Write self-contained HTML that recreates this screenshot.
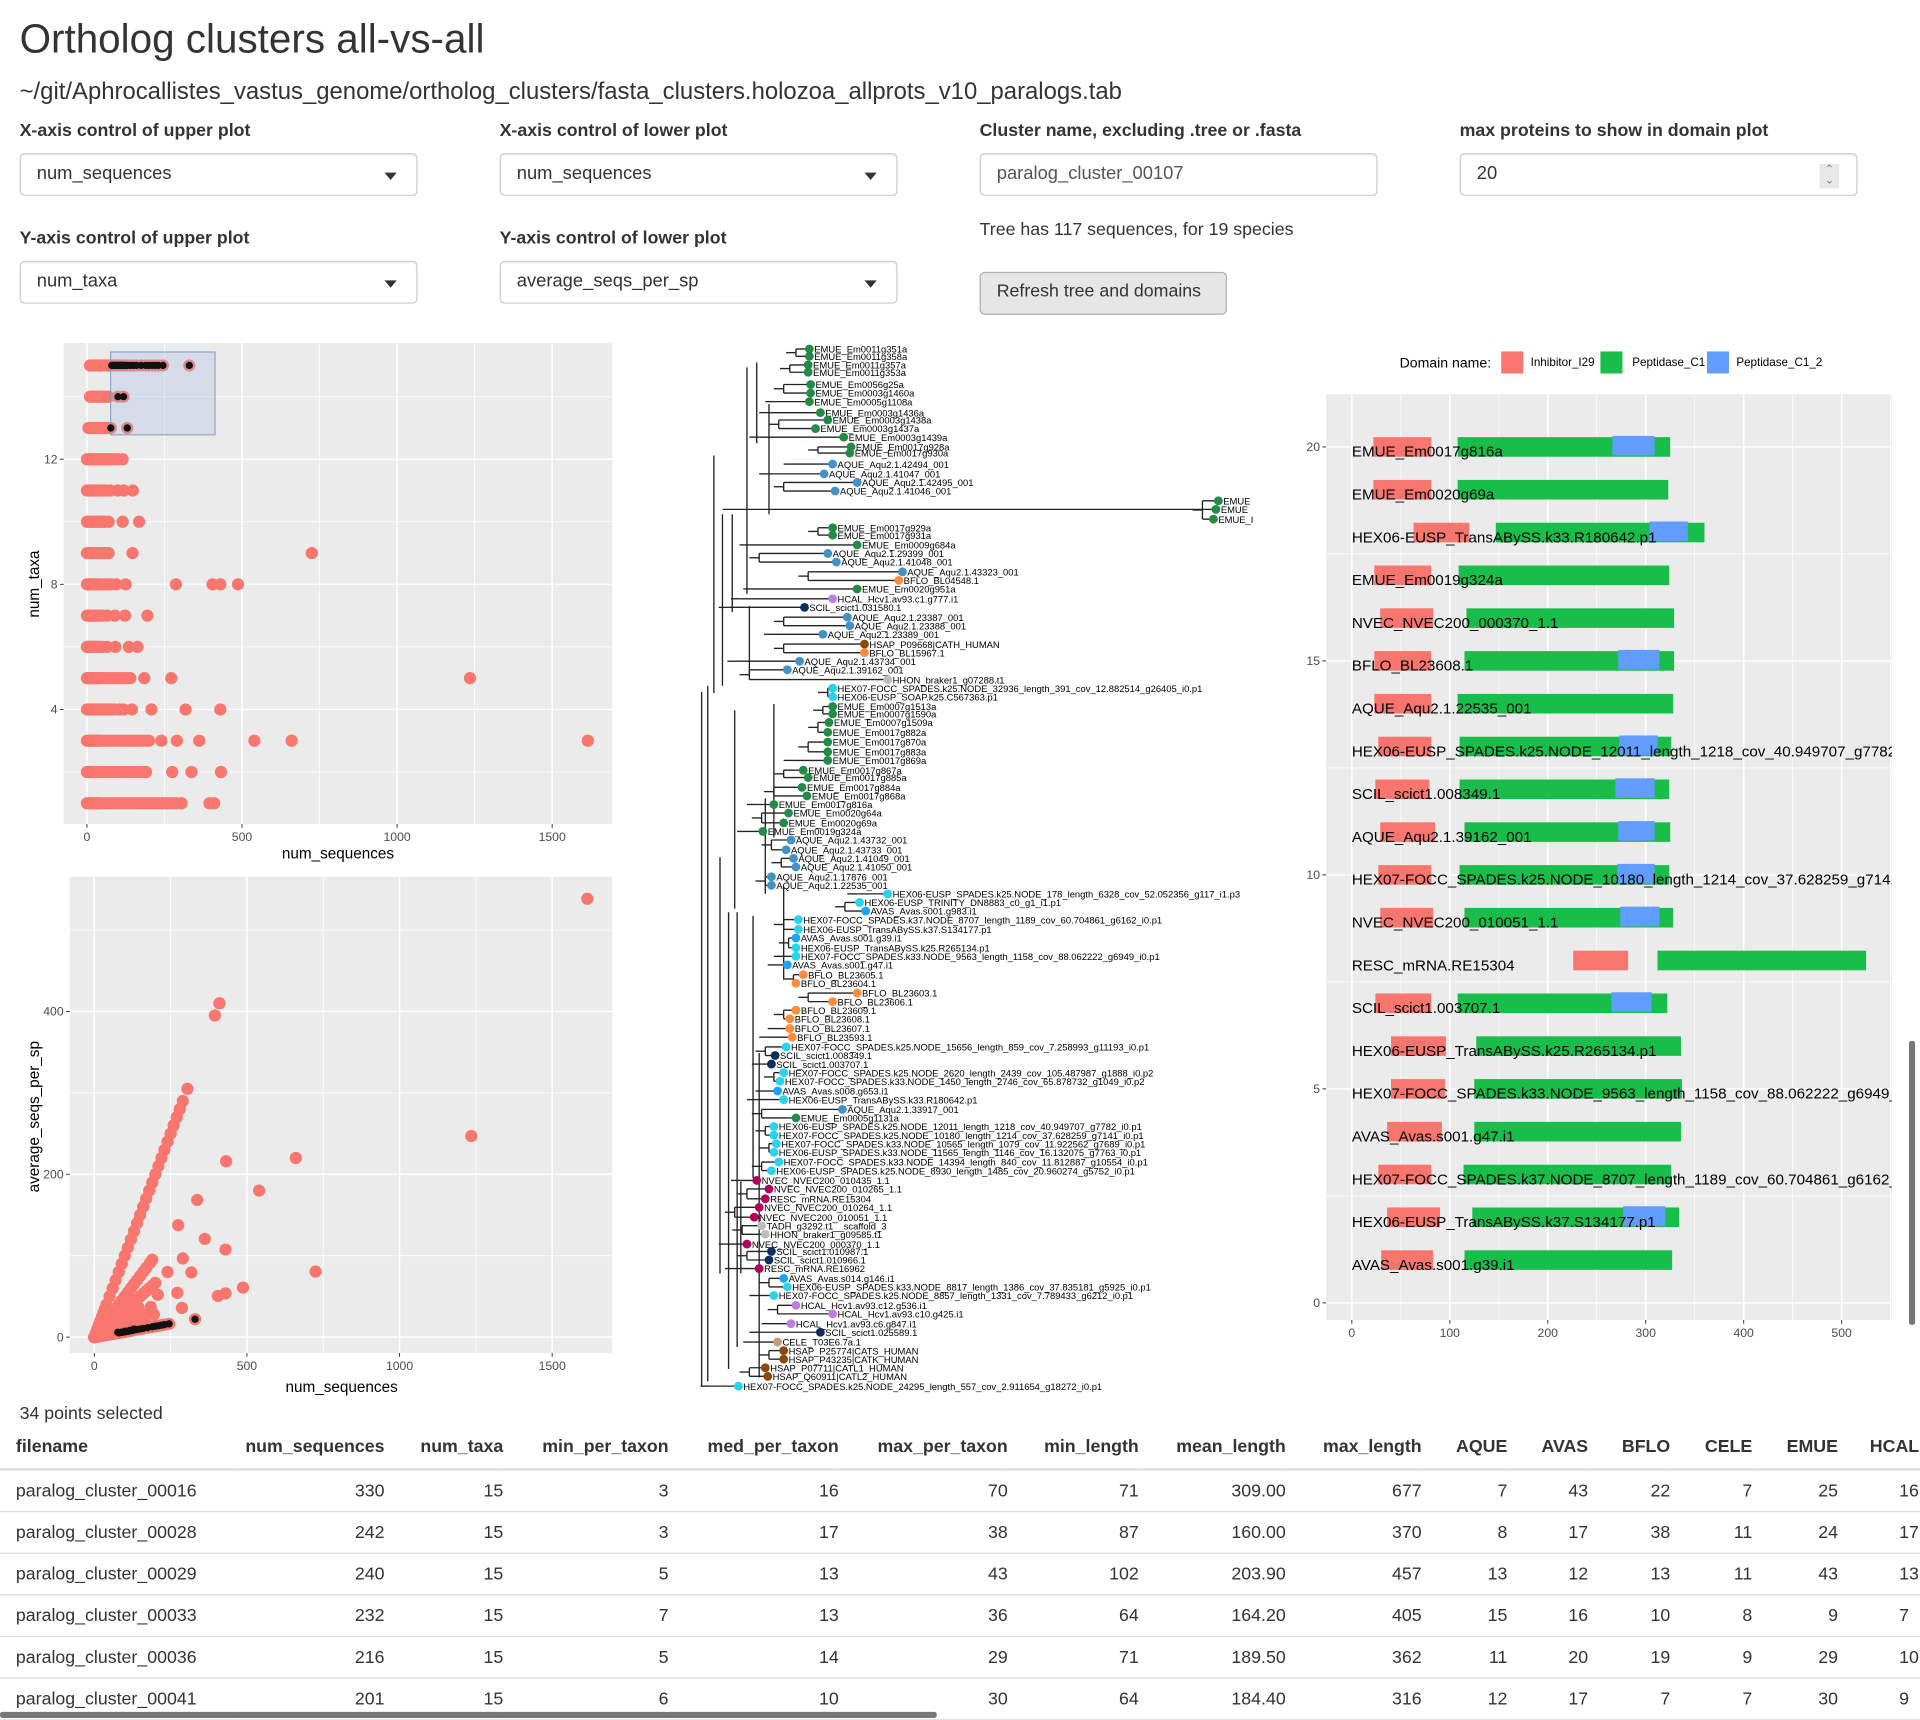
<!DOCTYPE html>
<html><head><meta charset="utf-8"><title>Ortholog clusters all-vs-all</title>
<style>
html,body{margin:0;padding:0;background:#fff;}
body{width:1920px;height:1720px;overflow:hidden;font-family:"Liberation Sans",Arial,sans-serif;color:#333;}
#wrap{position:absolute;left:0;top:0;width:1568px;height:1405px;transform:scale(1.22449);transform-origin:0 0;}
.abs{position:absolute;}
.lbl{position:absolute;font-weight:bold;font-size:14.5px;color:#333;}
.sel{position:absolute;width:325px;height:35px;border:1px solid #ccc;border-radius:4px;background:#fff;font-size:15px;color:#333;box-sizing:border-box;padding:7px 13px;box-shadow:inset 0 1px 1px rgba(0,0,0,.075);}
.sel .caret{position:absolute;right:16px;top:15px;width:0;height:0;border-left:5px solid transparent;border-right:5px solid transparent;border-top:6px solid #333;}
table{border-collapse:collapse;font-size:14.5px;}
th{font-weight:bold;text-align:right;padding:0;height:34px;border-bottom:2px solid #ddd;color:#333;}
td{text-align:right;height:33px;border-bottom:1px solid #ddd;padding:0;color:#333;}
th.l,td.l{text-align:left;}
svg text{font-family:"Liberation Sans",Arial,sans-serif;}
</style></head>
<body>
<div id="wrap">
<div class="abs" style="left:16px;top:13px;font-size:33px;color:#333;">Ortholog clusters all-vs-all</div>
<div class="abs" style="left:16px;top:64px;font-size:19.5px;color:#333;">~/git/Aphrocallistes_vastus_genome/ortholog_clusters/fasta_clusters.holozoa_allprots_v10_paralogs.tab</div>

<div class="lbl" style="left:16px;top:99px;">X-axis control of upper plot</div>
<div class="sel" style="left:16px;top:125px;">num_sequences<span class="caret"></span></div>
<div class="lbl" style="left:408px;top:99px;">X-axis control of lower plot</div>
<div class="sel" style="left:408px;top:125px;">num_sequences<span class="caret"></span></div>
<div class="lbl" style="left:800px;top:99px;">Cluster name, excluding .tree or .fasta</div>
<div class="sel" style="left:800px;top:125px;color:#555;">paralog_cluster_00107</div>
<div class="lbl" style="left:1192px;top:99px;">max proteins to show in domain plot</div>
<div class="sel" style="left:1192px;top:125px;">20<span style="position:absolute;right:14px;top:8px;width:16px;height:20px;background:#e8e8e8;font-size:9px;line-height:9px;text-align:center;color:#777;">&#8963;<br>&#8964;</span></div>

<div class="lbl" style="left:16px;top:187px;">Y-axis control of upper plot</div>
<div class="sel" style="left:16px;top:213px;">num_taxa<span class="caret"></span></div>
<div class="lbl" style="left:408px;top:187px;">Y-axis control of lower plot</div>
<div class="sel" style="left:408px;top:213px;">average_seqs_per_sp<span class="caret"></span></div>
<div class="abs" style="left:800px;top:180px;font-size:14.5px;">Tree has 117 sequences, for 19 species</div>
<div class="abs" style="left:800px;top:222px;width:202px;height:35px;box-sizing:border-box;border:1px solid #adadad;border-radius:4px;background:#e6e6e6;font-size:14.5px;padding:7px 0 0 13px;color:#333;">Refresh tree and domains</div>

<svg class="abs" style="left:0;top:0" width="1568" height="1405" id="charts"></svg>

<div class="abs" style="left:16px;top:1147px;font-size:14.5px;">34 points selected</div>
<div class="abs" style="left:0;top:1165px;width:1568px;overflow:hidden;">
<table style="width:1600px;">
<colgroup><col style="width:190px"><col style="width:124px"><col style="width:97px"><col style="width:135px"><col style="width:139px"><col style="width:138px"><col style="width:107px"><col style="width:120px"><col style="width:111px"><col style="width:70px"><col style="width:66px"><col style="width:67px"><col style="width:67px"><col style="width:70px"><col style="width:99px"></colgroup>
<tr><th class="l" style="padding-left:13px">filename</th><th>num_sequences</th><th>num_taxa</th><th>min_per_taxon</th><th>med_per_taxon</th><th>max_per_taxon</th><th>min_length</th><th>mean_length</th><th>max_length</th><th>AQUE</th><th>AVAS</th><th>BFLO</th><th>CELE</th><th>EMUE</th><th class="l" style="padding-left:26px">HCAL</th></tr>
<tr><td class="l" style="padding-left:13px">paralog_cluster_00016</td><td>330</td><td>15</td><td>3</td><td>16</td><td>70</td><td>71</td><td>309.00</td><td>677</td><td>7</td><td>43</td><td>22</td><td>7</td><td>25</td><td class="l" style="padding-left:50px">16</td></tr>
<tr><td class="l" style="padding-left:13px">paralog_cluster_00028</td><td>242</td><td>15</td><td>3</td><td>17</td><td>38</td><td>87</td><td>160.00</td><td>370</td><td>8</td><td>17</td><td>38</td><td>11</td><td>24</td><td class="l" style="padding-left:50px">17</td></tr>
<tr><td class="l" style="padding-left:13px">paralog_cluster_00029</td><td>240</td><td>15</td><td>5</td><td>13</td><td>43</td><td>102</td><td>203.90</td><td>457</td><td>13</td><td>12</td><td>13</td><td>11</td><td>43</td><td class="l" style="padding-left:50px">13</td></tr>
<tr><td class="l" style="padding-left:13px">paralog_cluster_00033</td><td>232</td><td>15</td><td>7</td><td>13</td><td>36</td><td>64</td><td>164.20</td><td>405</td><td>15</td><td>16</td><td>10</td><td>8</td><td>9</td><td class="l" style="padding-left:50px">7</td></tr>
<tr><td class="l" style="padding-left:13px">paralog_cluster_00036</td><td>216</td><td>15</td><td>5</td><td>14</td><td>29</td><td>71</td><td>189.50</td><td>362</td><td>11</td><td>20</td><td>19</td><td>9</td><td>29</td><td class="l" style="padding-left:50px">10</td></tr>
<tr><td class="l" style="padding-left:13px">paralog_cluster_00041</td><td>201</td><td>15</td><td>6</td><td>10</td><td>30</td><td>64</td><td>184.40</td><td>316</td><td>12</td><td>17</td><td>7</td><td>7</td><td>30</td><td class="l" style="padding-left:50px">9</td></tr>
</table></div>
<div class="abs" style="left:0;top:1398px;width:765px;height:5px;background:#777;border-radius:2px;"></div>
<div class="abs" style="left:1559px;top:850px;width:5px;height:232px;background:#777;border-radius:2px;"></div>
</div>

<script>
// ---------- scatter data (num_sequences, num_taxa per cluster) ----------
const numSeqsT15 = [10,15,20,25,30,35,40,45,50,55,60,65,70,76,80,82,85,88,90,93,95,98,100,103,105,108,110,112,115,118,120,125,130,140,150,160,175,190,200,210,220,230,245,330];
const numSeqsT14 = [10,15,20,25,30,35,40,45,50,55,60,65,70,100,118];
const numSeqsT13 = [5,10,15,20,25,30,35,40,45,50,55,60,65,70,77,130];
const numSeqsT12 = [0,5,10,15,20,25,30,35,40,45,50,55,60,65,70,75,80,90,100,115];
const numSeqsT11 = [0,5,10,15,20,25,30,35,40,50,60,75,99,119,148];
const numSeqsT10 = [0,5,10,15,20,25,30,35,40,45,50,55,60,70,115,168];
const numSeqsT9 = [0,5,10,15,20,25,30,35,40,45,50,55,60,70,147,725];
const numSeqsT8 = [0,5,10,15,20,25,30,35,40,50,60,70,80,95,125,287,405,430,487];
const numSeqsT7 = [0,5,10,15,20,25,30,35,40,50,65,90,123,195];
const numSeqsT6 = [0,5,10,15,20,25,30,35,40,50,65,92,135,163];
const numSeqsT5 = [0,5,10,15,20,25,30,35,40,50,60,70,80,90,100,110,120,130,140,185,272,1235];
const numSeqsT4 = [0,5,10,15,20,25,30,35,40,50,60,70,80,90,105,118,145,208,318,430];
const numSeqsT3 = [0,5,10,15,20,25,30,35,40,50,60,70,80,90,100,110,120,130,140,150,160,170,180,190,200,240,290,362,540,660,1615];
const numSeqsT2 = [0,5,10,15,20,25,30,35,40,50,60,70,80,90,100,110,120,130,140,150,160,170,182,190,275,337,432];
const numSeqsT1 = [0,5,10,15,20,25,30,35,40,50,60,70,80,90,100,110,120,130,140,150,160,170,180,190,200,210,220,230,240,250,260,270,280,290,305,395,410];
const taxaLevels = [15,14,13,12,11,10,9,8,7,6,5,4,3,2,1];
const seqsByTaxa = [numSeqsT15,numSeqsT14,numSeqsT13,numSeqsT12,numSeqsT11,numSeqsT10,numSeqsT9,numSeqsT8,numSeqsT7,numSeqsT6,numSeqsT5,numSeqsT4,numSeqsT3,numSeqsT2,numSeqsT1];
// brush selection (interaction state, data units)
const brushX = [76.5, 413];
const brushY = [12.78, 15.43];
const xTicks = [0,500,1000,1500];
const upperYTicks = [4,8,12];
const lowerYTicks = [0,200,400];

// ---------- domain plot data ----------
const domainProteins = ["EMUE_Em0017g816a","EMUE_Em0020g69a","HEX06-EUSP_TransABySS.k33.R180642.p1","EMUE_Em0019g324a","NVEC_NVEC200_000370_1.1","BFLO_BL23608.1","AQUE_Aqu2.1.22535_001","HEX06-EUSP_SPADES.k25.NODE_12011_length_1218_cov_40.949707_g7782_i0.p1","SCIL_scict1.008349.1","AQUE_Aqu2.1.39162_001","HEX07-FOCC_SPADES.k25.NODE_10180_length_1214_cov_37.628259_g7141_i0.p1","NVEC_NVEC200_010051_1.1","RESC_mRNA.RE15304","SCIL_scict1.003707.1","HEX06-EUSP_TransABySS.k25.R265134.p1","HEX07-FOCC_SPADES.k33.NODE_9563_length_1158_cov_88.062222_g6949_i0.p1","AVAS_Avas.s001.g47.i1","HEX07-FOCC_SPADES.k37.NODE_8707_length_1189_cov_60.704861_g6162_i0.p1","HEX06-EUSP_TransABySS.k37.S134177.p1","AVAS_Avas.s001.g39.i1"];
const i29Start = [22,22,63,23,29,23,23,27,24,29,27,29,226,24,40,40,36,27,36,30];
const i29End   = [81,81,120,81,83,81,81,81,79,85,81,83,282,81,96,95,92,81,90,83];
const c1Start  = [108,108,147,109,117,115,108,110,110,115,110,115,312,108,127,125,125,114,123,115];
const c1End    = [325,323,360,324,329,329,328,326,324,325,324,328,525,322,336,337,336,326,334,327];
const c12Start = [266,null,304,null,null,272,null,273,269,272,271,274,null,265,null,null,null,null,277,null];
const c12End   = [309,null,343,null,null,314,null,312,309,309,309,314,null,306,null,null,null,null,320,null];
const domainXTicks = [0,100,200,300,400,500];
const domainYTicks = [0,5,10,15,20];

// ---------- tree layout: [label, y, tipX, parentX] ----------
const treeLeaves = [
["EMUE_Em0011g351a",285,661,650],["EMUE_Em0011g358a",291,661,650],["EMUE_Em0011g357a",298,660,645],["EMUE_Em0011g353a",304,660,645],
["EMUE_Em0056g25a",314,662,640],["EMUE_Em0003g1460a",321,662,640],["EMUE_Em0005g1108a",328,661,633],["EMUE_Em0003g1436a",337,670,628],
["EMUE_Em0003g1438a",343,676,636],["EMUE_Em0003g1437a",350,666,636],["EMUE_Em0003g1439a",357,689,620],["EMUE_Em0017g928a",365,695,668],
["EMUE_Em0017g930a",370,694,668],["AQUE_Aqu2.1.42494_001",379,680,648],["AQUE_Aqu2.1.41047_001",387,673,628],["AQUE_Aqu2.1.42495_001",394,700,640],
["AQUE_Aqu2.1.41046_001",401,682,640],["EMUE",409,995,982],["EMUE",416,993,982],["EMUE_I",424,991,982],
["EMUE_Em0017g929a",431,680,668],["EMUE_Em0017g931a",437,680,668],["EMUE_Em0009g684a",445,700,612],["AQUE_Aqu2.1.29399_001",452,676,620],
["AQUE_Aqu2.1.41048_001",459,683,620],["AQUE_Aqu2.1.43323_001",467,737,660],["BFLO_BL04548.1",474,734,660],["EMUE_Em0020g951a",481,700,615],
["HCAL_Hcv1.av93.c1.g777.i1",489,680,605],["SCIL_scict1.031580.1",496,657,595],["AQUE_Aqu2.1.23387_001",504,692,640],["AQUE_Aqu2.1.23388_001",511,694,640],
["AQUE_Aqu2.1.23389_001",518,672,632],["HSAP_P09668|CATH_HUMAN",526,706,640],["BFLO_BL15967.1",533,706,640],["AQUE_Aqu2.1.43734_001",540,653,602],
["AQUE_Aqu2.1.39162_001",547,643,612],["HHON_braker1_g07288.t1",555,725,612],["HEX07-FOCC_SPADES.k25.NODE_32936_length_391_cov_12.882514_g26405_i0.p1",562,680,676],
["HEX06-EUSP_SOAP.k25.C567363.p1",569,680,676],["EMUE_Em0007g1513a",577,680,672],["EMUE_Em0007g1590a",583,680,672],["EMUE_Em0007g1509a",590,677,668],
["EMUE_Em0017g882a",598,676,668],["EMUE_Em0017g870a",606,676,660],["EMUE_Em0017g883a",614,676,660],["EMUE_Em0017g869a",621,676,648],
["EMUE_Em0017g867a",629,656,640],["EMUE_Em0017g885a",635,660,640],["EMUE_Em0017g884a",643,655,632],["EMUE_Em0017g868a",650,659,632],
["EMUE_Em0017g816a",657,632,618],["EMUE_Em0020g64a",664,644,622],["EMUE_Em0020g69a",672,640,622],["EMUE_Em0019g324a",679,623,610],
["AQUE_Aqu2.1.43732_001",686,646,630],["AQUE_Aqu2.1.43733_001",694,642,630],["AQUE_Aqu2.1.41049_001",701,648,638],["AQUE_Aqu2.1.41050_001",708,650,638],
["AQUE_Aqu2.1.17876_001",716,630,625],["AQUE_Aqu2.1.22535_001",723,630,625],["HEX06-EUSP_SPADES.k25.NODE_178_length_6328_cov_52.052356_g117_i1.p3",730,725,700],
["HEX06-EUSP_TRINITY_DN8883_c0_g1_i1.p1",737,702,690],["AVAS_Avas.s001.g983.i1",744,707,690],["HEX07-FOCC_SPADES.k37.NODE_8707_length_1189_cov_60.704861_g6162_i0.p1",751,652,640],
["HEX06-EUSP_TransABySS.k37.S134177.p1",759,652,640],["AVAS_Avas.s001.g39.i1",766,650,644],["HEX06-EUSP_TransABySS.k25.R265134.p1",774,650,644],
["HEX07-FOCC_SPADES.k33.NODE_9563_length_1158_cov_88.062222_g6949_i0.p1",781,650,640],["AVAS_Avas.s001.g47.i1",788,643,635],["BFLO_BL23605.1",796,656,648],
["BFLO_BL23604.1",803,650,648],["BFLO_BL23603.1",811,700,660],["BFLO_BL23606.1",818,680,660],["BFLO_BL23609.1",825,650,640],
["BFLO_BL23608.1",832,645,640],["BFLO_BL23607.1",840,645,635],["BFLO_BL23593.1",847,647,628],["HEX07-FOCC_SPADES.k25.NODE_15656_length_859_cov_7.258993_g11193_i0.p1",855,642,625],
["SCIL_scict1.008349.1",862,633,625],["SCIL_scict1.003707.1",869,630,622],["HEX07-FOCC_SPADES.k25.NODE_2620_length_2439_cov_105.487987_g1888_i0.p2",876,640,632],
["HEX07-FOCC_SPADES.k33.NODE_1450_length_2746_cov_65.878732_g1049_i0.p2",883,637,632],["AVAS_Avas.s008.g653.i1",891,635,625],["HEX06-EUSP_TransABySS.k33.R180642.p1",898,640,618],
["AQUE_Aqu2.1.33917_001",906,688,622],["EMUE_Em0005g1131a",913,650,622],["HEX06-EUSP_SPADES.k25.NODE_12011_length_1218_cov_40.949707_g7782_i0.p1",920,632,625],
["HEX07-FOCC_SPADES.k25.NODE_10180_length_1214_cov_37.628259_g7141_i0.p1",927,632,625],["HEX07-FOCC_SPADES.k33.NODE_10565_length_1079_cov_11.922562_g7689_i0.p1",934,634,628],
["HEX06-EUSP_SPADES.k33.NODE_11565_length_1146_cov_16.132075_g7763_i0.p1",941,632,628],["HEX07-FOCC_SPADES.k33.NODE_14394_length_840_cov_11.812887_g10554_i0.p1",949,636,622],
["HEX06-EUSP_SPADES.k25.NODE_8930_length_1485_cov_20.960274_g5752_i0.p1",956,630,622],["NVEC_NVEC200_010435_1.1",964,618,605],["NVEC_NVEC200_010265_1.1",971,628,610],
["RESC_mRNA.RE15304",979,625,610],["NVEC_NVEC200_010264_1.1",986,620,600],["NVEC_NVEC200_010051_1.1",994,616,600],
["TADH_g3292.t1__scaffold_3",1001,622,606],["HHON_braker1_g09585.t1",1008,625,606],["NVEC_NVEC200_000370_1.1",1016,610,595],
["SCIL_scict1.010987.1",1022,630,610],["SCIL_scict1.010966.1",1029,628,610],["RESC_mRNA.RE16962",1036,620,600],
["AVAS_Avas.s014.g146.i1",1044,640,628],["HEX06-EUSP_SPADES.k33.NODE_8817_length_1386_cov_37.835181_g5925_i0.p1",1051,643,628],["HEX07-FOCC_SPADES.k25.NODE_8857_length_1331_cov_7.789433_g6212_i0.p1",1058,632,620],
["HCAL_Hcv1.av93.c12.g536.i1",1066,650,635],["HCAL_Hcv1.av93.c10.g425.i1",1073,680,635],["HCAL_Hcv1.av93.c6.g847.i1",1081,646,630],
["SCIL_scict1.025589.1",1088,670,620],["CELE_T03E6.7a.1",1096,635,615],["HSAP_P25774|CATS_HUMAN",1103,640,628],
["HSAP_P43235|CATK_HUMAN",1110,640,628],["HSAP_P07711|CATL1_HUMAN",1117,625,612],["HSAP_Q60911|CATL2_HUMAN",1124,627,612],
["HEX07-FOCC_SPADES.k25.NODE_24295_length_557_cov_2.911654_g18272_i0.p1",1132,603,580]];
const treeInternal = [[573,565,1132],[578,560,1128],[583,372,566],[590,420,560],[595,745,1118],[600,580,742],[605,965,1040],[610,300,485],[615,748,962],[620,860,1125],[618,296,362],[628,330,420],[625,652,730],[632,575,684],[640,724,800],[612,495,550],[602,745,1100],[598,420,500],[588,700,1040]];
const speciesColor = {EMUE:"#238b45",AQUE:"#4292c6",BFLO:"#fd8d3c",HCAL:"#c07de6",SCIL:"#0b2e5e",HSAP:"#8b4a0b",HHON:"#bdbdbd",TADH:"#bdbdbd",HEX06:"#27d3ee",HEX07:"#27d3ee",AVAS:"#1aa3ff",NVEC:"#b0005a",RESC:"#b0005a",CELE:"#d19a6e"};

const NS="http://www.w3.org/2000/svg";
const svg=document.getElementById('charts');
function mk(tag,attrs,parent){const e=document.createElementNS(NS,tag);for(const k in attrs)e.setAttribute(k,attrs[k]);(parent||svg).appendChild(e);return e;}
function txt(s,attrs,parent){const e=mk('text',attrs,parent);e.textContent=s;return e;}

// ---------- upper scatter ----------
const U={x0:52,x1:500,y0:280,y1:673};
function ux(n){return 71+n*0.2533;}
function uy(t){return 656-(t-1)*25.54;}
const gU=mk('g',{});


mk('rect',{x:U.x0,y:U.y0,width:U.x1-U.x0,height:U.y1-U.y0,fill:'#EBEBEB'},gU);
[250,750,1250].forEach(v=>mk('line',{x1:ux(v),x2:ux(v),y1:U.y0,y2:U.y1,stroke:'#fff','stroke-width':0.6},gU));
[2,6,10,14].forEach(v=>mk('line',{x1:U.x0,x2:U.x1,y1:uy(v),y2:uy(v),stroke:'#fff','stroke-width':0.6},gU));
xTicks.forEach(v=>{mk('line',{x1:ux(v),x2:ux(v),y1:U.y0,y2:U.y1,stroke:'#fff','stroke-width':1.2},gU);
 mk('line',{x1:ux(v),x2:ux(v),y1:U.y1,y2:U.y1+3,stroke:'#333','stroke-width':0.8},gU);
 const t=txt(String(v),{x:ux(v),y:U.y1+14,'text-anchor':'middle','font-size':10,fill:'#4d4d4d'},gU);
 });
upperYTicks.forEach(v=>{mk('line',{x1:U.x0,x2:U.x1,y1:uy(v),y2:uy(v),stroke:'#fff','stroke-width':1.2},gU);
 mk('line',{x1:U.x0-3,x2:U.x0,y1:uy(v),y2:uy(v),stroke:'#333','stroke-width':0.8},gU);
 const t=txt(String(v),{x:U.x0-5,y:uy(v)+3.5,'text-anchor':'end','font-size':10,fill:'#4d4d4d'},gU);
 });
const ut=txt('num_sequences',{x:276,y:701,'text-anchor':'middle','font-size':12.5,fill:'#000'},gU);

const uyt=txt('num_taxa',{x:0,y:0,'text-anchor':'middle','font-size':12.5,fill:'#000',transform:'translate(32,477) rotate(-90)'},gU);

function isSel(n,t){return n>=brushX[0]&&n<=brushX[1]&&t>=brushY[0]&&t<=brushY[1];}
taxaLevels.forEach((t,i)=>seqsByTaxa[i].forEach(n=>{
 const c=mk('circle',{cx:ux(n),cy:uy(t),r:5,fill:'#F8766D'},gU);
 }));
const br=mk('rect',{x:ux(brushX[0]),y:uy(brushY[1]),width:ux(brushX[1])-ux(brushX[0]),height:uy(brushY[0])-uy(brushY[1]),fill:'#9ab8e0','fill-opacity':0.3,stroke:'#7f98b8','stroke-width':0.8},gU);

taxaLevels.forEach((t,i)=>seqsByTaxa[i].forEach(n=>{ if(isSel(n,t)){
 const c=mk('circle',{cx:ux(n),cy:uy(t),r:3,fill:'#111'},gU);
 }}));

// ---------- lower scatter ----------
const L={x0:57,x1:500,y0:716,y1:1105};
function lx(n){return 77+n*0.2493;}
function ly(v){return 1092-v*0.665;}
const gL=mk('g',{});


mk('rect',{x:L.x0,y:L.y0,width:L.x1-L.x0,height:L.y1-L.y0,fill:'#EBEBEB'},gL);
[250,750,1250].forEach(v=>mk('line',{x1:lx(v),x2:lx(v),y1:L.y0,y2:L.y1,stroke:'#fff','stroke-width':0.6},gL));
[100,300,500].forEach(v=>mk('line',{x1:L.x0,x2:L.x1,y1:ly(v),y2:ly(v),stroke:'#fff','stroke-width':0.6},gL));
xTicks.forEach(v=>{mk('line',{x1:lx(v),x2:lx(v),y1:L.y0,y2:L.y1,stroke:'#fff','stroke-width':1.2},gL);
 mk('line',{x1:lx(v),x2:lx(v),y1:L.y1,y2:L.y1+3,stroke:'#333','stroke-width':0.8},gL);
 const t=txt(String(v),{x:lx(v),y:L.y1+14,'text-anchor':'middle','font-size':10,fill:'#4d4d4d'},gL);
 });
lowerYTicks.forEach(v=>{mk('line',{x1:L.x0,x2:L.x1,y1:ly(v),y2:ly(v),stroke:'#fff','stroke-width':1.2},gL);
 mk('line',{x1:L.x0-3,x2:L.x0,y1:ly(v),y2:ly(v),stroke:'#333','stroke-width':0.8},gL);
 const t=txt(String(v),{x:L.x0-5,y:ly(v)+3.5,'text-anchor':'end','font-size':10,fill:'#4d4d4d'},gL);
 });
const lt=txt('num_sequences',{x:279,y:1137,'text-anchor':'middle','font-size':12.5,fill:'#000'},gL);

const lyt=txt('average_seqs_per_sp',{x:0,y:0,'text-anchor':'middle','font-size':12.5,fill:'#000',transform:'translate(32,912) rotate(-90)'},gL);

taxaLevels.forEach((t,i)=>seqsByTaxa[i].forEach(n=>{
 const c=mk('circle',{cx:lx(n),cy:ly(n/t),r:5,fill:'#F8766D'},gL);
 }));
taxaLevels.forEach((t,i)=>seqsByTaxa[i].forEach(n=>{ if(isSel(n,t)){
 const c=mk('circle',{cx:lx(n),cy:ly(n/t),r:3,fill:'#111'},gL);
 }}));

// ---------- tree ----------
const gT=mk('g',{});


treeInternal.forEach(s=>mk('line',{x1:s[0],x2:s[0],y1:s[1],y2:s[2],stroke:'#222','stroke-width':1.1},gT));
let runStart=0;
for(let i=1;i<=treeLeaves.length;i++){
 if(i===treeLeaves.length||treeLeaves[i][3]!==treeLeaves[runStart][3]){
  const a=treeLeaves[runStart],b=treeLeaves[i-1];
  mk('line',{x1:a[3],x2:a[3],y1:a[1],y2:b[1],stroke:'#222','stroke-width':1.1},gT);
  mk('line',{x1:a[3]-8,x2:a[3],y1:(a[1]+b[1])/2,y2:(a[1]+b[1])/2,stroke:'#222','stroke-width':1.1},gT);
  runStart=i;}
}
mk('line',{x1:590,x2:982,y1:416,y2:416,stroke:'#222','stroke-width':1.1},gT);
treeLeaves.forEach(l=>{
 mk('line',{x1:l[3],x2:l[2],y1:l[1],y2:l[1],stroke:'#222','stroke-width':1.1},gT);
 const sp=l[0].split(/[_]/)[0].split('-')[0];
 const c=mk('circle',{cx:l[2],cy:l[1],r:3.6,fill:speciesColor[sp]||'#888'},gT);
 
 const t=txt(l[0],{x:l[2]+4,y:l[1]+3,'font-size':7.7,fill:'#000'},gT);
 
});

// ---------- domain plot ----------
const D={x0:1083,x1:1545,y0:322,y1:1078};
function dx(v){return 1104+v*0.8;}
function dy(r){return 1064-r*34.95;}
const gD=mk('g',{});


const cp=mk('clipPath',{id:'dclip'},gD);mk('rect',{x:D.x0,y:D.y0,width:D.x1-D.x0,height:D.y1-D.y0},cp);
mk('rect',{x:D.x0,y:D.y0,width:D.x1-D.x0,height:D.y1-D.y0,fill:'#EBEBEB'},gD);
[50,150,250,350,450,550].forEach(v=>mk('line',{x1:dx(v),x2:dx(v),y1:D.y0,y2:D.y1,stroke:'#fff','stroke-width':0.6},gD));
[2.5,7.5,12.5,17.5].forEach(v=>mk('line',{x1:D.x0,x2:D.x1,y1:dy(v),y2:dy(v),stroke:'#fff','stroke-width':0.6},gD));
domainXTicks.forEach(v=>{mk('line',{x1:dx(v),x2:dx(v),y1:D.y0,y2:D.y1,stroke:'#fff','stroke-width':1.2},gD);
 mk('line',{x1:dx(v),x2:dx(v),y1:D.y1,y2:D.y1+3,stroke:'#333','stroke-width':0.8},gD);
 const t=txt(String(v),{x:dx(v),y:D.y1+14,'text-anchor':'middle','font-size':10,fill:'#4d4d4d'},gD);
 });
domainYTicks.forEach(v=>{mk('line',{x1:D.x0,x2:D.x1,y1:dy(v),y2:dy(v),stroke:'#fff','stroke-width':1.2},gD);
 mk('line',{x1:D.x0-3,x2:D.x0,y1:dy(v),y2:dy(v),stroke:'#333','stroke-width':0.8},gD);
 const t=txt(String(v),{x:D.x0-5,y:dy(v)+3.5,'text-anchor':'end','font-size':10,fill:'#4d4d4d'},gD);
 });
const gB=mk('g',{'clip-path':'url(#dclip)'},gD);
domainProteins.forEach((p,i)=>{
 const r=20-i, cy=dy(r);
 const b1=mk('rect',{x:dx(i29Start[i]),y:cy-8,width:dx(i29End[i])-dx(i29Start[i]),height:16,fill:'#F8766D'},gB);
 
 const b2=mk('rect',{x:dx(c1Start[i]),y:cy-8,width:dx(c1End[i])-dx(c1Start[i]),height:16,fill:'#19BE4A'},gB);
 
 if(c12Start[i]!==null){
  const b3=mk('rect',{x:dx(c12Start[i]),y:cy-9,width:dx(c12End[i])-dx(c12Start[i]),height:16,fill:'#619CFF'},gB);
  }
 const t=txt(p,{x:dx(0),y:cy+8,'font-size':12.4,fill:'#000'},gB);
 
});
const gLeg=mk('g',{});


txt('Domain name:',{x:1143,y:300,'font-size':11.5,fill:'#000'},gLeg);
[[1226,'#F8766D','Inhibitor_I29',1250],[1307,'#19BE4A','Peptidase_C1',1333],[1394,'#619CFF','Peptidase_C1_2',1418]].forEach(e=>{
 const s=mk('rect',{x:e[0],y:287,width:18,height:18,fill:e[1]},gLeg);
 
 const t=txt(e[2],{x:e[3],y:299,'font-size':9.5,fill:'#000'},gLeg);
 
});
</script>
</body></html>
